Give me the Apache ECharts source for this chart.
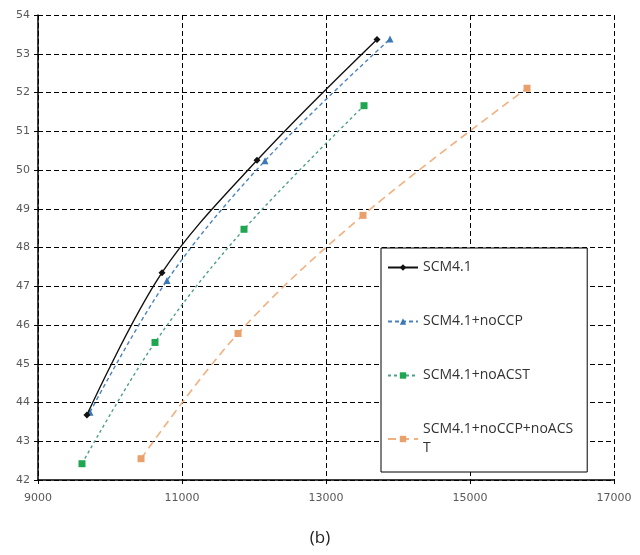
<!DOCTYPE html>
<html>
<head>
<meta charset="utf-8">
<script src="https://cdn.jsdelivr.net/npm/echarts@6/dist/echarts.min.js"></script>
<style>
  html, body { margin: 0; padding: 0; background: #fff; }
  #chart { width: 640px; height: 555px; }
</style>
</head>
<body>
<div id="chart"></div>
<script>
// values: [x, y]
const scm41 = [[9680, 43.68], [10722, 47.35], [12042, 50.25], [13708, 53.37]];
const noCCP = [[9722, 43.75], [10792, 47.15], [12153, 50.24], [13889, 53.38]];
const noACST = [[9611, 42.42], [10625, 45.55], [11861, 48.47], [13528, 51.66]];
const noCCPnoACST = [[10431, 42.55], [11778, 45.78], [13514, 48.83], [15792, 52.11]];
const seriesNames = ["SCM4.1", "SCM4.1+noCCP", "SCM4.1+noACST", "SCM4.1+noCCP+noACST"];

const myChart = echarts.init(document.getElementById("chart"));

const tickFont = { color: "#595959", fontSize: 11, fontFamily: "DejaVu Sans" };

let option = {
  animation: false,
  grid: { left: 38, right: 26, top: 15, bottom: 75 },
  title: {
    text: "(b)",
    left: "center",
    top: 525,
    textStyle: { fontSize: 17, fontWeight: "normal", color: "#222", fontFamily: "Open Sans" },
  },
  legend: {
    orient: "vertical",
    left: 381,
    top: 248,
    padding: [10, 14, 14, 6],
    itemGap: 35,
    itemWidth: 30,
    itemHeight: 8,
    backgroundColor: "#fff",
    borderColor: "#000",
    borderWidth: 1,
    data: seriesNames,
    formatter: function (name) {
      return name == "SCM4.1+noCCP+noACST" ? "SCM4.1+noCCP+noACS\nT" : name;
    },
    textStyle: { fontSize: 14, color: "#333", fontFamily: "Open Sans", lineHeight: 19 },
  },
  xAxis: {
    type: "value",
    min: 9000,
    max: 17000,
    interval: 2000,
    axisLine: { show: true, onZero: false, lineStyle: { color: "#000", width: 1.5 } },
    axisTick: { show: true, length: 4, lineStyle: { color: "#000" } },
    axisLabel: Object.assign({ margin: 13, formatter: (v) => String(v) }, tickFont),
    splitLine: { show: true, lineStyle: { color: "#000", type: [5, 3], width: 1 } },
  },
  yAxis: {
    type: "value",
    min: 42,
    max: 54,
    interval: 1,
    axisLine: { show: true, onZero: false, lineStyle: { color: "#000", width: 1.5 } },
    axisTick: { show: true, length: 4, lineStyle: { color: "#000" } },
    axisLabel: Object.assign({ margin: 8 }, tickFont),
    splitLine: { show: true, lineStyle: { color: "#000", type: [5, 3], width: 1 } },
  },
  series: [
    {
      name: seriesNames[0],
      type: "line",
      smooth: 0.35,
      data: scm41,
      symbol: "diamond",
      symbolSize: 7,
      itemStyle: { color: "#111" },
      lineStyle: { color: "#111", width: 1.4 },
      z: 5,
    },
    {
      name: seriesNames[1],
      type: "line",
      smooth: 0.35,
      data: noCCP,
      symbol: "triangle",
      symbolSize: 7,
      itemStyle: { color: "#3b78b8" },
      lineStyle: { color: "#4a82bf", width: 1.4, type: [4, 3] },
      z: 4,
    },
    {
      name: seriesNames[2],
      type: "line",
      smooth: 0.35,
      data: noACST,
      symbol: "rect",
      symbolSize: 7,
      itemStyle: { color: "#1fa650" },
      lineStyle: { color: "#4f9f8c", width: 1.4, type: [3, 3] },
      z: 3,
    },
    {
      name: seriesNames[3],
      type: "line",
      smooth: 0.35,
      data: noCCPnoACST,
      symbol: "rect",
      symbolSize: 7,
      itemStyle: { color: "#eaa06a" },
      lineStyle: { color: "#f2b07e", width: 1.6, type: [8, 5] },
      z: 2,
    },
  ],
};

option && myChart.setOption(option);
</script>
</body>
</html>
